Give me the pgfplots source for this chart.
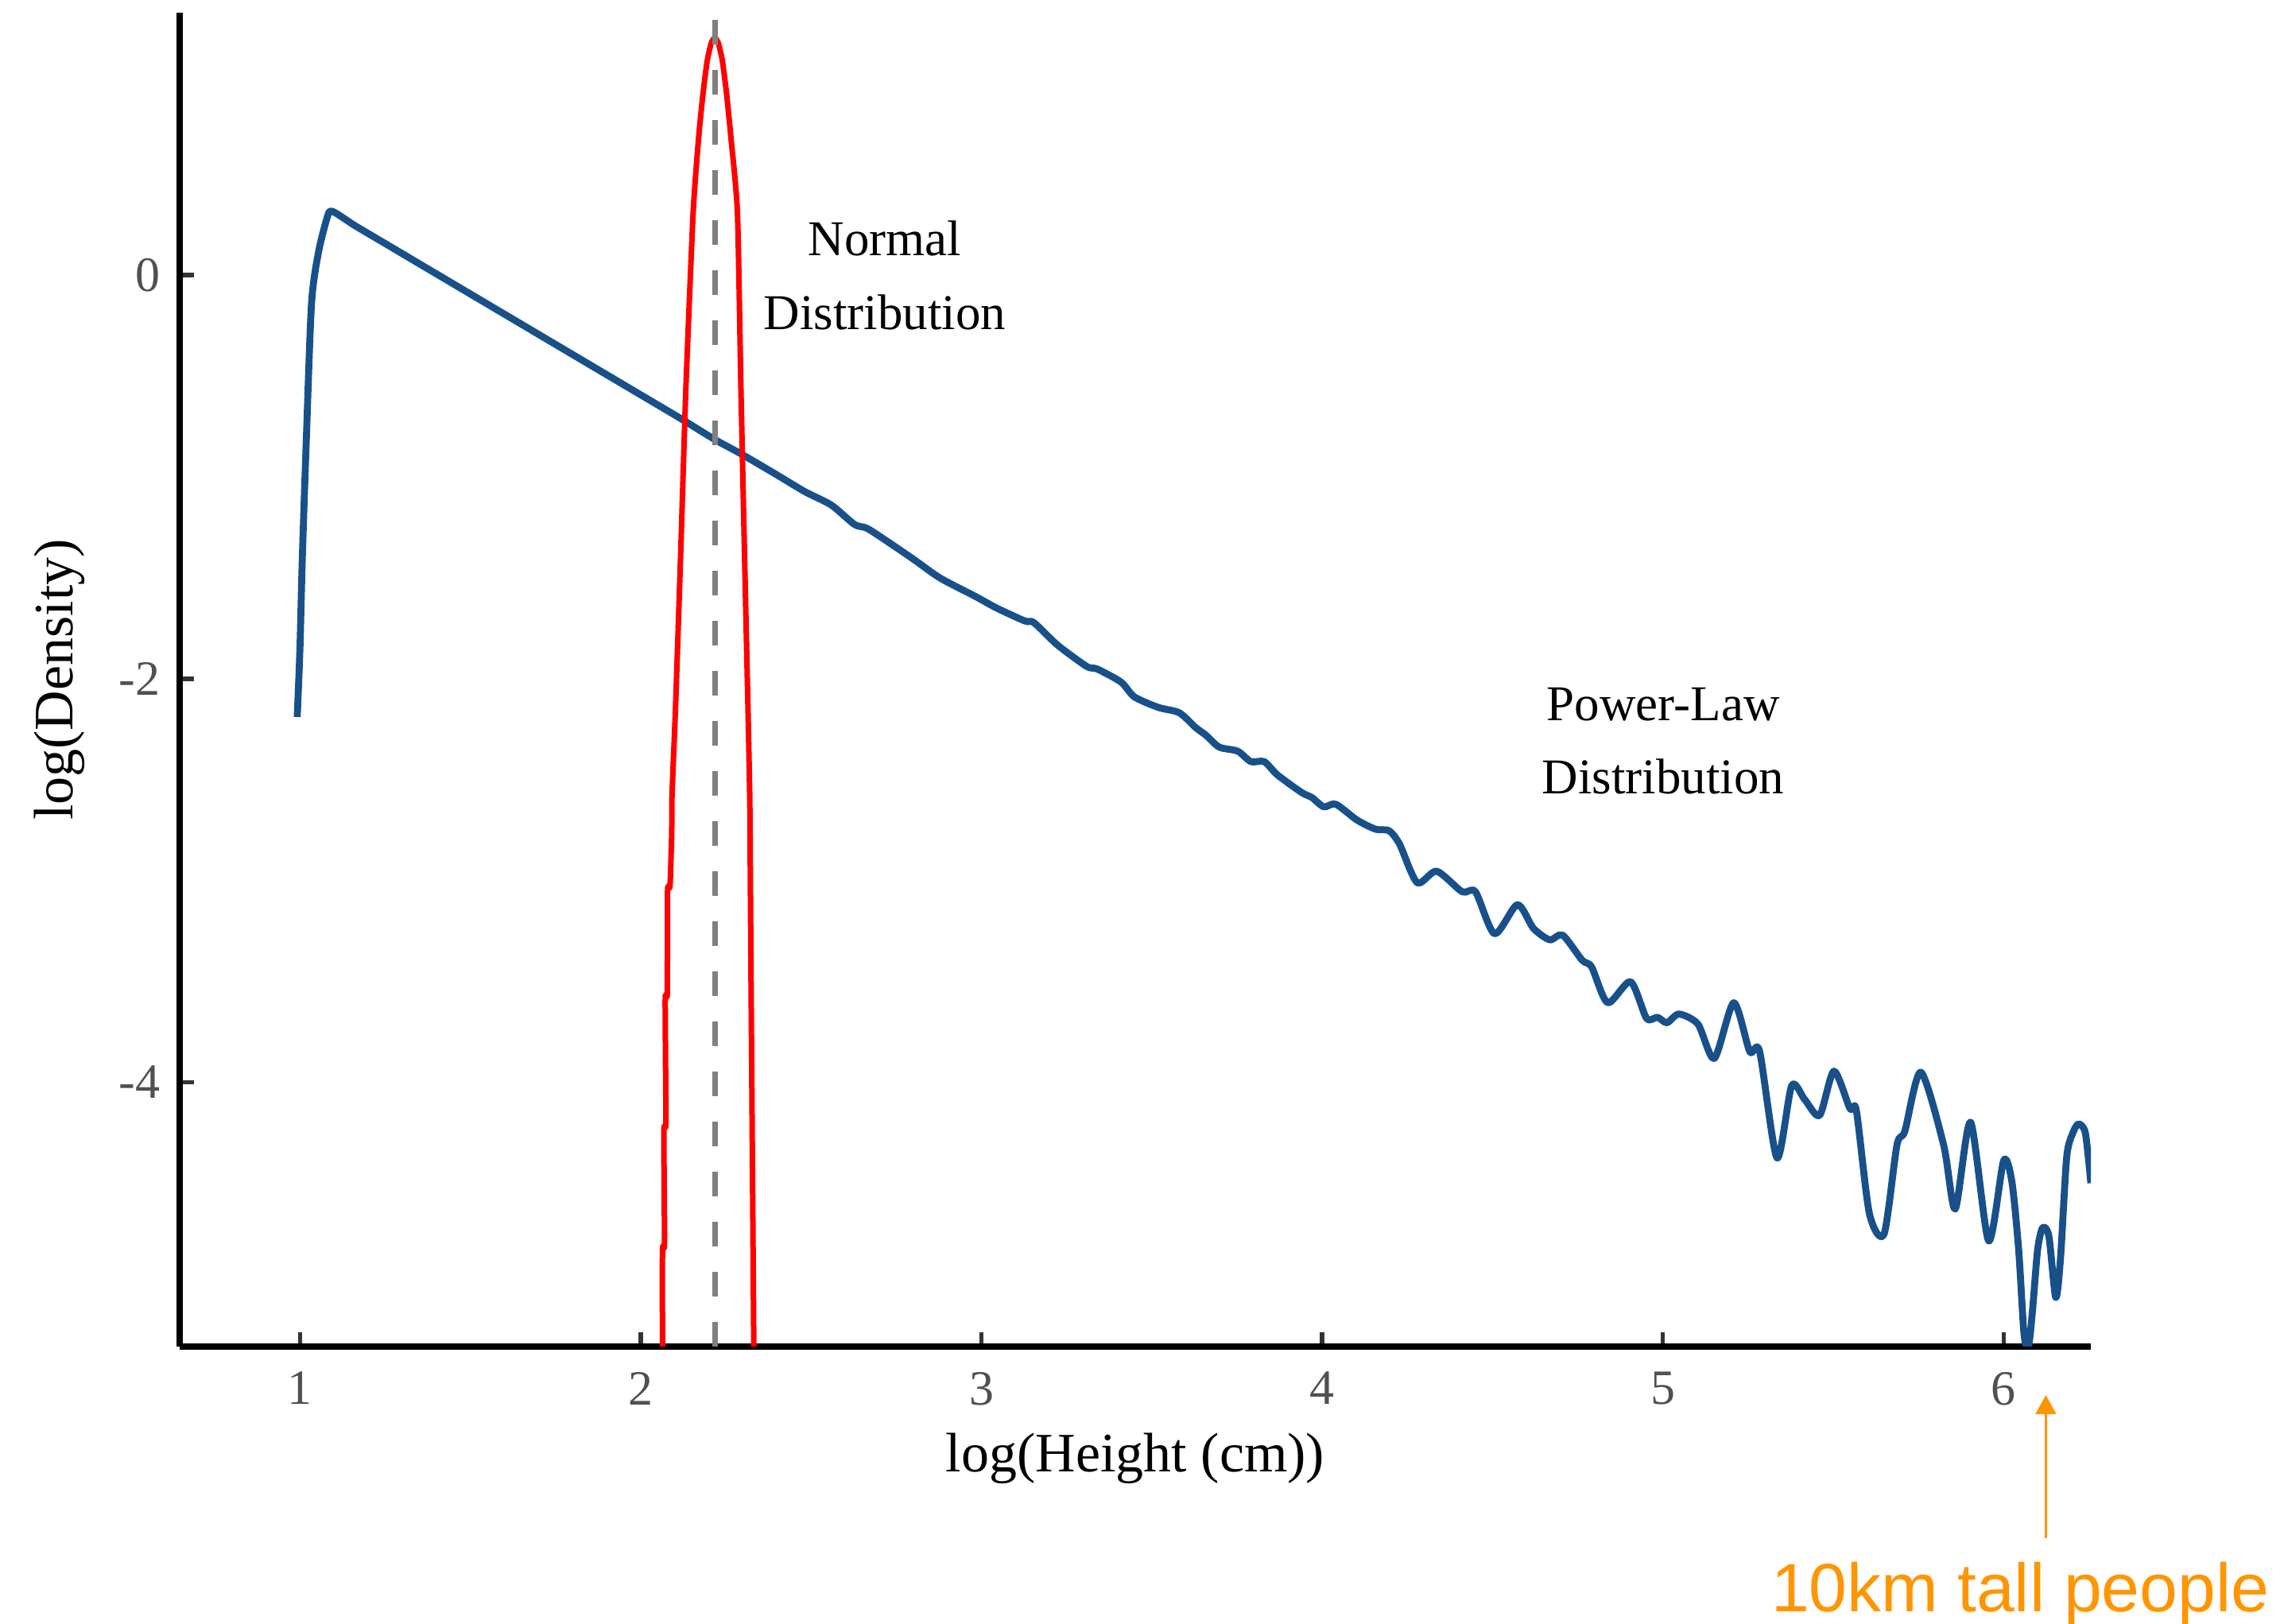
\documentclass[border=0pt]{standalone}
\usepackage{pgfplots}
\pgfplotsset{compat=1.18}
\usepackage{fontspec}
\setmainfont{Liberation Serif}
\newfontfamily\notefont{Liberation Sans}
\usetikzlibrary{arrows.meta}

\definecolor{lawblue}{RGB}{24,80,138}
\definecolor{tickgray}{RGB}{80,80,80}
\definecolor{refgray}{RGB}{128,128,128}
\definecolor{noteorange}{RGB}{255,149,0}

\begin{document}
\begin{tikzpicture}
\useasboundingbox (-45.2pt,-69.8pt) rectangle (529.4pt,338.8pt);
\begin{axis}[
  at={(0,0)}, anchor=south west,
  width=480.8pt, height=335.6pt, scale only axis,
  xmin=0.647, xmax=6.256, ymin=-5.31, ymax=1.301,
  axis lines*=left,
  axis line style={line width=1.7pt, black},
  tick align=inside,
  major tick length=3.6pt,
  major tick style={line width=1.1pt, black!80},
  xtick={1,2,3,4,5,6}, xticklabels={1,2,3,4,5,6},
  ytick={-4,-2,0}, yticklabels={-4,-2,0},
  tick label style={font=\fontsize{12.4}{14}\selectfont, text=tickgray},
  xticklabel style={anchor=north, inner sep=0pt, yshift=-6.2pt},
  yticklabel style={anchor=east, inner sep=0pt, xshift=-4.7pt},
  xlabel={log(Height (cm))},
  ylabel={log(Density)},
  label style={font=\fontsize{14}{16}\selectfont},
  xlabel style={at={(axis description cs:0.5,-0.084)}, anchor=center},
  ylabel style={at={(axis description cs:-0.063,0.5)}, anchor=center},
  clip mode=individual,
]

% power-law density (kernel estimate on log scale)
\addplot[lawblue, line width=1.75pt, line join=round, smooth, tension=0.45] coordinates {
  (0.992,-2.19) (1.000,-1.85) (1.007,-1.40) (1.019,-0.80) (1.034,-0.14)
  (1.054,0.11) (1.079,0.28) (1.094,0.317) (1.161,0.246) (1.250,0.157)
  (1.414,-0.007) (1.488,-0.081) (1.607,-0.200) (1.712,-0.305) (1.816,-0.409)
  (1.905,-0.498) (1.994,-0.587) (2.113,-0.706) (2.218,-0.815) (2.294,-0.885)
  (2.400,-0.99) (2.482,-1.073) (2.560,-1.14) (2.628,-1.236) (2.670,-1.26)
  (2.794,-1.40) (2.878,-1.50) (2.980,-1.59) (3.045,-1.65) (3.128,-1.714)
  (3.154,-1.722) (3.224,-1.834) (3.309,-1.939) (3.340,-1.952) (3.410,-2.017)
  (3.449,-2.090) (3.519,-2.142) (3.581,-2.169) (3.628,-2.241) (3.659,-2.280)
  (3.698,-2.339) (3.752,-2.359) (3.791,-2.411) (3.830,-2.411) (3.869,-2.477)
  (3.939,-2.563) (3.970,-2.589) (4.005,-2.635) (4.040,-2.622) (4.102,-2.700)
  (4.157,-2.746) (4.196,-2.753) (4.227,-2.819) (4.279,-3.011) (4.336,-2.954)
  (4.411,-3.056) (4.450,-3.056) (4.506,-3.264) (4.573,-3.120) (4.620,-3.237)
  (4.668,-3.294) (4.706,-3.271) (4.763,-3.395) (4.791,-3.429) (4.838,-3.606)
  (4.905,-3.502) (4.952,-3.683) (4.984,-3.678) (5.012,-3.705) (5.047,-3.662)
  (5.103,-3.712) (5.151,-3.882) (5.208,-3.606) (5.255,-3.848) (5.284,-3.848)
  (5.335,-4.375) (5.378,-4.017) (5.416,-4.085) (5.460,-4.164) (5.502,-3.945)
  (5.549,-4.130) (5.568,-4.142) (5.606,-4.650) (5.649,-4.753) (5.687,-4.311)
  (5.710,-4.243) (5.757,-3.950) (5.824,-4.311) (5.858,-4.628) (5.903,-4.198)
  (5.956,-4.786) (6.000,-4.389) (6.024,-4.490) (6.044,-4.826) (6.060,-5.250)
  (6.073,-5.310) (6.085,-5.127) (6.100,-4.826) (6.115,-4.720) (6.133,-4.765)
  (6.153,-5.067) (6.167,-4.871) (6.185,-4.373) (6.203,-4.252) (6.220,-4.207)
  (6.240,-4.252) (6.256,-4.500)
};

% normal density
\addplot[red, line width=1.4pt, line join=round, smooth, tension=0.35] coordinates {
  (2.064,-5.31) (2.064,-4.83) (2.070,-4.80) (2.068,-4.24) (2.074,-4.20)
  (2.072,-3.59) (2.078,-3.56) (2.079,-3.05) (2.086,-3.03) (2.091,-2.77)
  (2.092,-2.576) (2.102,-2.154) (2.117,-1.40) (2.133,-0.545) (2.154,0.309)
  (2.170,0.680) (2.183,0.900) (2.195,1.06) (2.207,1.15) (2.2175,1.176)
  (2.228,1.15) (2.240,1.06) (2.252,0.900) (2.265,0.680) (2.284,0.309)
  (2.294,-0.545) (2.305,-1.40) (2.315,-2.154) (2.320,-2.576) (2.321,-2.77)
  (2.324,-3.51) (2.332,-5.31)
};

% mean of the normal distribution
\addplot[refgray, line width=1.5pt, dash pattern=on 6.2pt off 6.4pt] coordinates {
  (2.218,-5.31) (2.218,1.301)
};

\node[font=\fontsize{12.6}{14}\selectfont, anchor=base, inner sep=0pt] at (axis cs:2.716,0.096) {Normal};
\node[font=\fontsize{12.6}{14}\selectfont, anchor=base, inner sep=0pt] at (axis cs:2.716,-0.269) {Distribution};
\node[font=\fontsize{12.6}{14}\selectfont, anchor=base, inner sep=0pt] at (axis cs:5.001,-2.208) {Power-Law};
\node[font=\fontsize{12.6}{14}\selectfont, anchor=base, inner sep=0pt] at (axis cs:5.001,-2.570) {Distribution};

\draw[noteorange, line width=0.7pt, -{Triangle[width=5.1pt, length=4.8pt]}]
  (axis cs:6.124,-6.26) -- (axis cs:6.124,-5.55);
\node[noteorange, font=\notefont\fontsize{17.2}{20}\selectfont, anchor=base, inner sep=0pt]
  at (axis cs:6.049,-6.622) {10km tall people};
\end{axis}
\end{tikzpicture}
\end{document}
